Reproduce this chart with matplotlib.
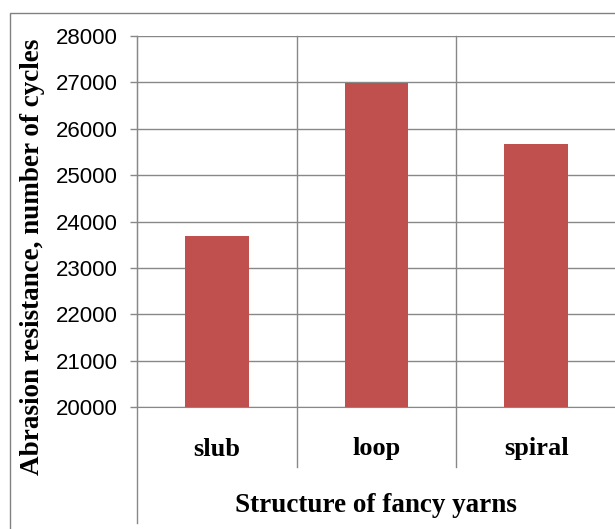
import matplotlib.pyplot as plt
import matplotlib.transforms as mtransforms
from matplotlib.patches import Rectangle

categories = ['slub', 'loop', 'spiral']
cycles = [23680, 26990, 25670]
yticks = [20000, 21000, 22000, 23000, 24000, 25000, 26000, 27000, 28000]

fig = plt.figure(figsize=(6.15, 5.29), dpi=100)
ax = fig.add_axes([137 / 615, (529 - 407) / 529, (616 - 137) / 615, (407 - 36) / 529])

grid_c = '#888888'
x = list(range(len(categories)))
ax.bar(x, cycles, width=0.4, color='#C0504D', zorder=3)
ax.set_xlim(-0.5, 2.5)
ax.set_ylim(20000, 28000)
ax.set_yticks(yticks)
ax.set_yticklabels([str(v) for v in yticks], fontname='Liberation Sans', fontsize=16)
ax.tick_params(axis='y', length=5, color=grid_c, width=1, pad=9)
ax.set_xticks([])
ax.yaxis.grid(True, color=grid_c, lw=1, zorder=0)

for s in ['top', 'right']:
    ax.spines[s].set_visible(False)
ax.spines['left'].set_color(grid_c)
ax.spines['bottom'].set_color(grid_c)

# vertical separators, extended down through the category label area
trans = mtransforms.blended_transform_factory(ax.transData, ax.transAxes)
label_bottom = (407 - 467) / (407 - 36)
group_bottom = (407 - 523) / (407 - 36)
for xs in [0.5, 1.5]:
    ax.plot([xs, xs], [label_bottom, 1], transform=trans, color=grid_c, lw=1, clip_on=False, zorder=1)
ax.plot([-0.5, -0.5], [group_bottom, 1], transform=trans, color=grid_c, lw=1, clip_on=False, zorder=1)
ax.plot([2.5, 2.5], [0, 1], transform=trans, color='#cccccc', lw=1, clip_on=False, zorder=1)

for xi, name in zip(x, categories):
    ax.text(xi, (407 - 449) / (407 - 36), name, transform=trans, ha='center', va='center',
            fontname='Liberation Serif', fontweight='bold', fontsize=19)

fig.text((137 + 615) / 2 / 615, 1 - 506 / 529, 'Structure of fancy yarns', ha='center', va='center',
         fontname='Liberation Serif', fontweight='bold', fontsize=19.5)
fig.text(33 / 615, 1 - 257 / 529, 'Abrasion resistance, number of cycles', rotation=90,
         ha='center', va='center', fontname='Liberation Serif', fontweight='bold', fontsize=19.5)

fig.patches.append(Rectangle((10 / 615, -0.1), 1.2, 1 - 13 / 529 + 0.1, transform=fig.transFigure,
                             fill=False, edgecolor='#808080', lw=1))

fig.savefig('out.png', dpi=100)
